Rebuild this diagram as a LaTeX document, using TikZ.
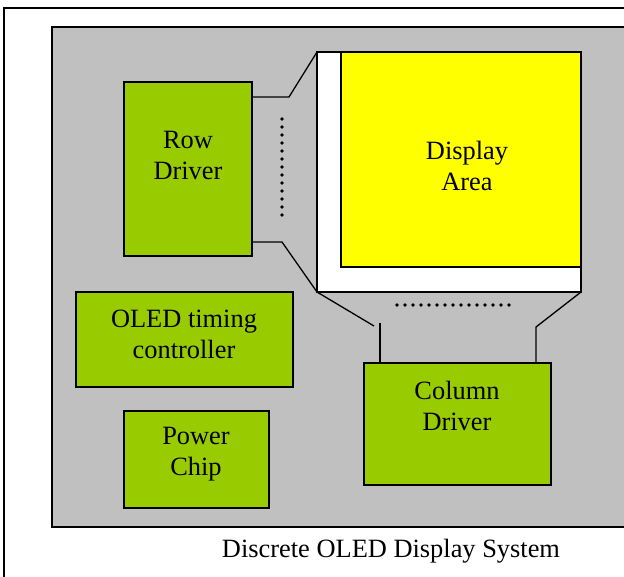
\documentclass[tikz,border=0pt]{standalone}
\usepackage{fontspec}
\setmainfont{Liberation Serif}
\definecolor{chipgreen}{HTML}{99CC00}
\definecolor{boardgray}{HTML}{C0C0C0}
\definecolor{areayellow}{HTML}{FFFF00}

\begin{document}
\begin{tikzpicture}[x=1pt,y=-1pt,line width=1.3pt,
        block/.style={draw,fill=chipgreen,anchor=north west,inner sep=0pt,outer sep=0pt},
        panel/.style={draw,anchor=north west,inner sep=0pt,outer sep=0pt},
        txt/.style={align=center,font=\fontsize{26.4}{31}\selectfont},
        dots/.style={line width=3.6pt,line cap=round,dash pattern=on 0pt off 8pt}]
        \useasboundingbox (0,0) rectangle (624,576);
        \clip (0,0) rectangle (624,576);
        \draw[line width=1.5pt] (4,8) rectangle (660,620);
        \draw[fill=boardgray] (52,27) rectangle (660,527);
        \node[panel,fill=white,minimum width=264pt,minimum height=240pt](disp) at (317,52) {};
        \node[panel,fill=areayellow,minimum width=240pt,minimum height=215pt](area) at (341,52) {};
        \node[block,minimum width=128pt,minimum height=174pt](row) at (124,82)  {};
        \node[block,minimum width=217pt,minimum height=95pt](tcon) at (76,292) {};
        \node[block,minimum width=145pt,minimum height=97pt](pwr) at (124,411) {};
        \node[block,minimum width=187pt,minimum height=122pt](col) at (364,363) {};
        \node[txt](rowtxt)  at (188,155) {Row\\Driver};
        \node[txt](areatxt) at (467,166) {Display\\Area};
        \node[txt](tcontxt) at (184,334) {OLED timing\\controller};
        \node[txt](pwrtxt)  at (196,454) {Power\\Chip};
        \node[txt](coltxt)  at (457,406) {Column\\Driver};
        \node[txt](cap)     at (391,551) {Discrete OLED Display System};
        \coordinate (ru) at (289,97);
        \coordinate (rl) at (282,242);
        \coordinate (cl) at (374,326);
        \coordinate (cv) at (380,323);
        \coordinate (cr) at (536,327);
        \draw (row.east |- ru) -- (ru) -- (disp.north west);
        \draw (row.east |- rl) -- (rl) -- (disp.south west);
        \draw (disp.south west) -- (cl);
        \draw (cv) -- (cv |- col.north);
        \draw (disp.south east) -- (cr) -- (cr |- col.north);
        \draw[dots] (282,119) -- (282,216);
        \draw[dots] (397,305) -- (509,305);
    \end{tikzpicture}
\end{document}
